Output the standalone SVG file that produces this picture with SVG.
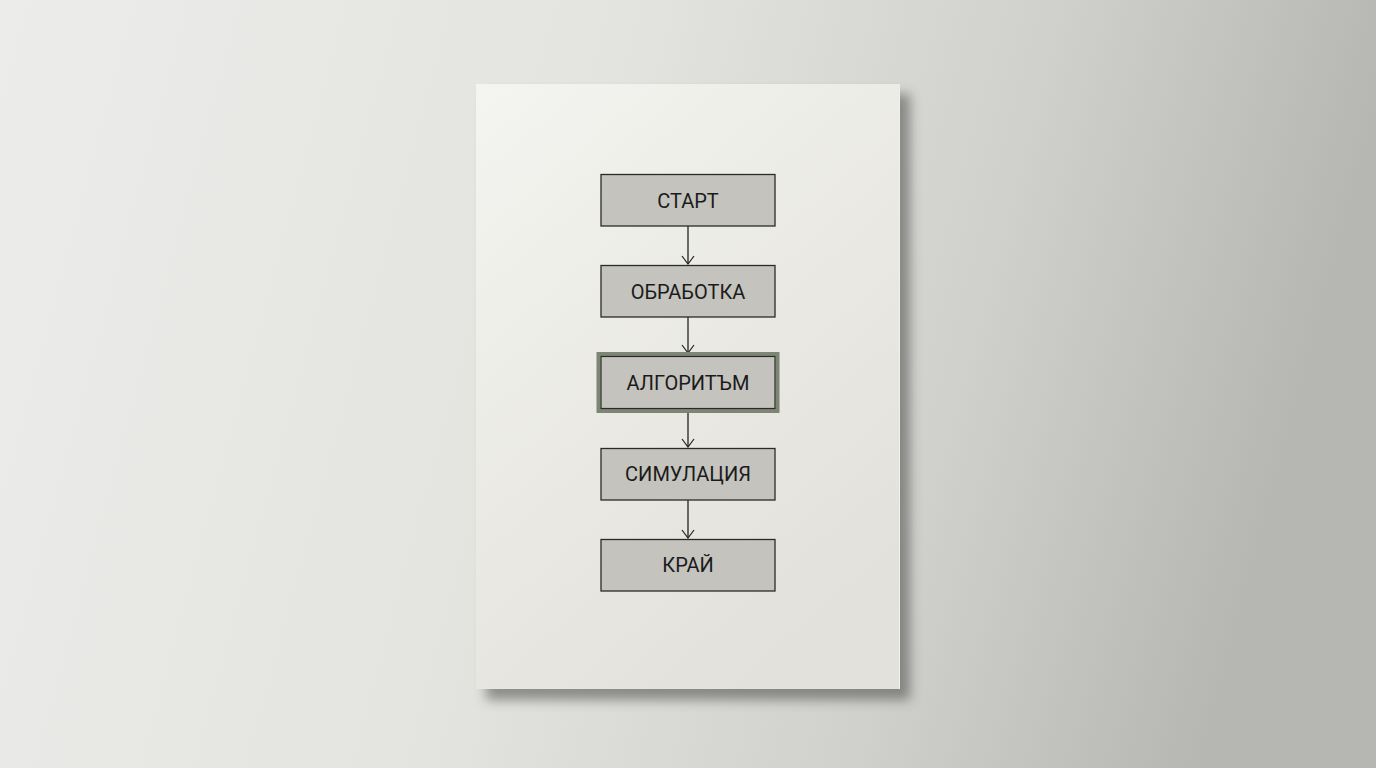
<svg xmlns="http://www.w3.org/2000/svg" width="1376" height="768" viewBox="0 0 1376 768">
<defs>
<linearGradient id="bg" x1="0" y1="0" x2="1" y2="0.15">
<stop offset="0" stop-color="#ececea"/>
<stop offset="0.45" stop-color="#e3e3e0"/>
<stop offset="0.75" stop-color="#d0d1cd"/>
<stop offset="1" stop-color="#b6b7b3"/>
</linearGradient>
<linearGradient id="paper" x1="0" y1="0" x2="0.6" y2="1">
<stop offset="0" stop-color="#f4f4f0"/>
<stop offset="1" stop-color="#e2e1db"/>
</linearGradient>
<filter id="sh" x="-20%" y="-20%" width="140%" height="140%">
<feGaussianBlur stdDeviation="6"/>
</filter>
<marker id="ah" viewBox="0 0 10 14" refX="9" refY="7" markerWidth="10" markerHeight="14" markerUnits="userSpaceOnUse" orient="auto">
<path d="M1,1 L9,7 L1,13" fill="none" stroke="#222" stroke-width="1.2"/>
</marker>
<style>
.box{fill:#c4c3bd;stroke:#2a2a28;stroke-width:1.3}
.lbl{font-family:Roboto,"Liberation Sans",sans-serif;font-size:20px;fill:#1b1b1b;text-anchor:middle;dominant-baseline:central}
.con{stroke:#222;stroke-width:1.3;fill:none}
</style>
</defs>
<rect width="1376" height="768" fill="url(#bg)"/>
<rect x="486" y="94" width="424" height="606" fill="#3a3a38" opacity="0.5" filter="url(#sh)"/>
<rect x="476" y="84" width="424" height="605" fill="url(#paper)"/>
<line x1="899.5" y1="90" x2="899.5" y2="689" stroke="#f0f0ec" stroke-width="1"/>
<g id="connectors">
<line class="con" x1="688" y1="226" x2="688" y2="264" marker-end="url(#ah)"/>
<line class="con" x1="688" y1="317" x2="688" y2="353" marker-end="url(#ah)"/>
<line class="con" x1="688" y1="411" x2="688" y2="447" marker-end="url(#ah)"/>
<line class="con" x1="688" y1="500" x2="688" y2="538" marker-end="url(#ah)"/>
</g>
<g id="start"><rect class="box" x="601" y="174.5" width="174" height="51.5"/><text class="lbl" x="688" y="200.5">СТАРТ</text></g>
<g id="obrabotka"><rect class="box" x="601" y="265.5" width="174" height="51.5"/><text class="lbl" x="688" y="291.5">ОБРАБОТКА</text></g>
<g id="algoritam"><rect x="598.5" y="354" width="179" height="57" fill="#c4c3bd" stroke="#7d8575" stroke-width="4"/><rect x="601" y="356.5" width="174" height="52" fill="none" stroke="#2a2a28" stroke-width="1.2"/><text class="lbl" x="688" y="382.5">АЛГОРИТЪМ</text></g>
<g id="simulacia"><rect class="box" x="601" y="448.5" width="174" height="51.5"/><text class="lbl" x="688" y="474">СИМУЛАЦИЯ</text></g>
<g id="kray"><rect class="box" x="601" y="539.5" width="174" height="51.5"/><text class="lbl" x="688" y="565">КРАЙ</text></g>
</svg>
